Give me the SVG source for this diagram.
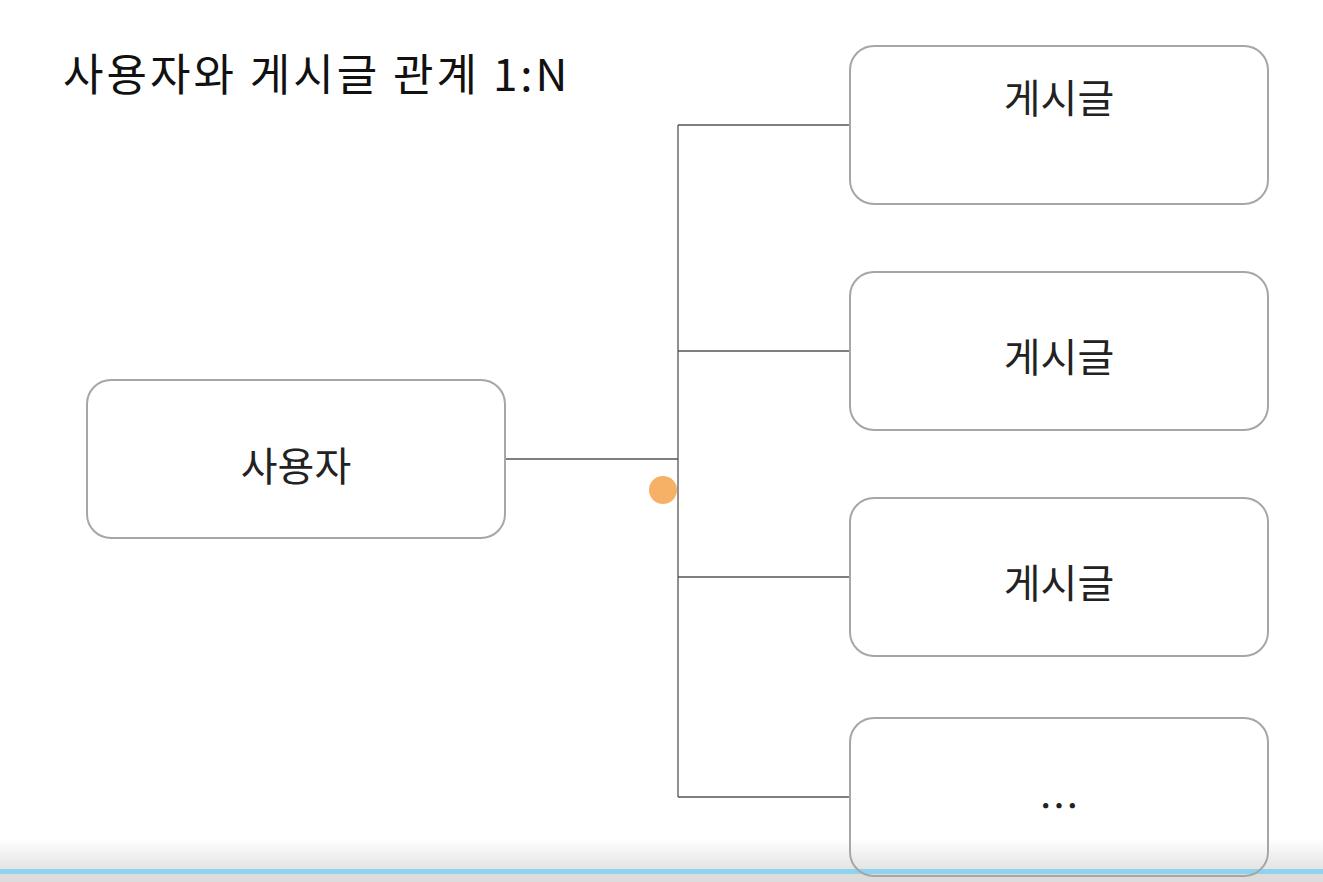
<svg xmlns="http://www.w3.org/2000/svg" width="1323" height="882" viewBox="0 0 1323 882">
  <defs>
    <style>
      .box { fill: none; stroke: #a6a6a6; stroke-width: 2; }
      .lbl { font-family: "Noto Sans CJK KR", "Noto Sans", sans-serif; font-size: 40px; fill: #222222; text-anchor: middle; }
      .title { font-family: "Noto Sans CJK KR", "Noto Sans", sans-serif; font-size: 44px; fill: #111111; letter-spacing: 3px; }
      .conn { stroke: #555555; stroke-width: 1.3; fill: none; }
    </style>
    <linearGradient id="shade" x1="0" y1="0" x2="0" y2="1">
      <stop offset="0" stop-color="#e4e4e4" stop-opacity="0"/>
      <stop offset="1" stop-color="#e4e4e4" stop-opacity="1"/>
    </linearGradient>
  </defs>
  <rect x="0" y="0" width="1323" height="882" fill="#ffffff"/>

  <rect x="0" y="838" width="1323" height="31" fill="url(#shade)"/>
  <rect x="0" y="869" width="1323" height="5" fill="#8fd3ef"/>
  <rect x="0" y="874" width="1323" height="8" fill="#dcdcdc"/>

  <text class="title" x="63" y="91">사용자와 게시글 관계 1:N</text>

  <g id="connectors">
    <path class="conn" d="M505 459 H678"/>
    <path class="conn" d="M678 125 V797"/>
    <path class="conn" d="M678 125 H850"/>
    <path class="conn" d="M678 351 H850"/>
    <path class="conn" d="M678 577 H850"/>
    <path class="conn" d="M678 797 H850"/>
  </g>

  <g id="user">
    <rect class="box" x="87" y="380" width="418" height="158" rx="24"/>
    <text class="lbl" x="296" y="481">사용자</text>
  </g>
  <g id="post1">
    <rect class="box" x="850" y="46" width="418" height="158" rx="24"/>
    <text class="lbl" x="1059" y="113">게시글</text>
  </g>
  <g id="post2">
    <rect class="box" x="850" y="272" width="418" height="158" rx="24"/>
    <text class="lbl" x="1059" y="372">게시글</text>
  </g>
  <g id="post3">
    <rect class="box" x="850" y="498" width="418" height="158" rx="24"/>
    <text class="lbl" x="1059" y="598">게시글</text>
  </g>
  <g id="post4">
    <rect class="box" x="850" y="718" width="418" height="158" rx="24"/>
    <text class="lbl" x="1059" y="821">…</text>
  </g>

  <circle cx="663" cy="490" r="14" fill="#f5a855" opacity="0.9"/>
</svg>
